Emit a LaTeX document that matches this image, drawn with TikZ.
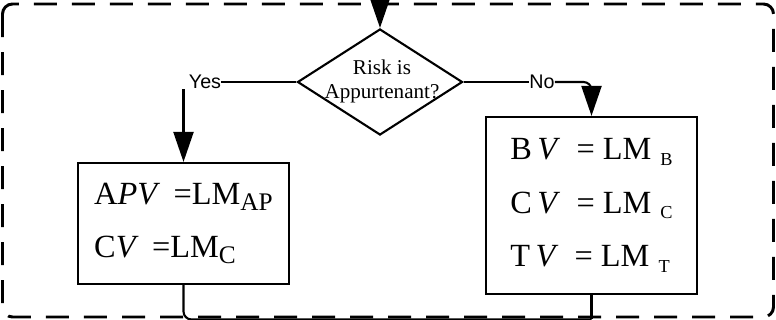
\documentclass[tikz,border=0pt]{standalone}
\usepackage{fontspec}
\setmainfont{Liberation Serif}
\newfontfamily\rotulo{Liberation Sans}
\usetikzlibrary{positioning,arrows.meta,shapes.geometric}
\definecolor{trazoNegro}{HTML}{000000}
\newcommand{\subLM}[2]{\raisebox{-4pt}{\fontsize{#1}{#1}\selectfont #2}}
\tikzset{
  marco/.style={draw=trazoNegro, line width=2.1pt,
    dash pattern=on 0.575cm off 0.375cm, rounded corners=0.25cm},
  decision/.style={diamond, draw=trazoNegro, line width=1.5pt,
    minimum width=4.125cm, minimum height=2.65cm, inner sep=0pt},
  pregunta/.style={align=center, font=\fontsize{15}{17}\selectfont, inner sep=0pt},
  formula/.style={rectangle, draw=trazoNegro, line width=1.5pt,
    minimum width=5.275cm, align=left, font=\fontsize{23}{38}\selectfont},
  rotuloRama/.style={font=\rotulo\fontsize{14}{14}\selectfont, inner sep=0pt},
  flechaFlujo/.style={-{Triangle[length=0.75cm, width=0.5cm]}, line width=1.5pt, trazoNegro},
  lineaFlujo/.style={-, line width=1.5pt, trazoNegro},
}

\begin{document}
\begin{tikzpicture}[x=0.025cm, y=-0.025cm]
    \useasboundingbox (0,0) rectangle (776,320);
    \draw[marco] (2.5,4) rectangle (773.5,317);
    \coordinate (entrada) at (380,-2);
    \coordinate (union) at (591.5,319.5);
    \node[decision] (riesgo) at (380,82) {};
    \node[pregunta] (riesgoTexto) at (382,81) {Risk is\\Appurtenant?};
    \node[rotuloRama] (si) at (205,82) {Yes};
    \node[rotuloRama] (no) at (542,82) {No};
    \node[formula, minimum height=3.025cm] (ap) at (183.5,223.5)
      {A\textit{PV}\, =LM\subLM{18}{AP}\\C\textit{V}\, =LM\subLM{18}{C}};
    \node[formula, minimum height=4.425cm] (bct) at (591.5,205.5)
      {B\,\textit{V}\enspace= LM\;\subLM{13}{B}\\C\,\textit{V}\enspace= LM\;\subLM{13}{C}\\T\,\textit{V}\enspace= LM\;\subLM{13}{T}};
    \draw[flechaFlujo] (entrada) -- (riesgo.north);
    \draw[lineaFlujo] (riesgo.west) -- (si.east);
    \draw[flechaFlujo] (ap.north |- si.south) -- (ap.north);
    \draw[lineaFlujo] (riesgo.east) -- (no.west);
    \draw[flechaFlujo, rounded corners=0.2cm] (no.east) -| (bct.north);
    \draw[lineaFlujo, rounded corners=0.2cm] (ap.south) |- (union);
    \draw[lineaFlujo] (bct.south) -- (union);
  \end{tikzpicture}
\end{document}
